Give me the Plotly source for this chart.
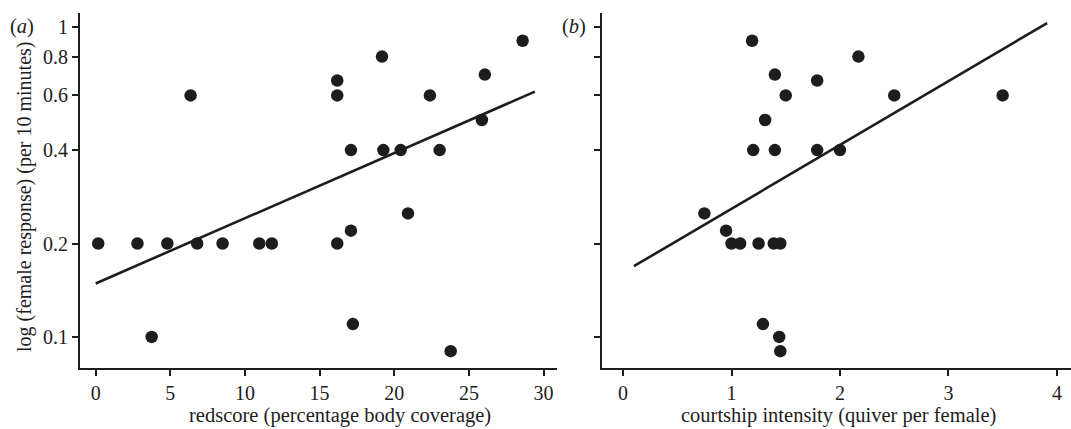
import plotly.graph_objects as go

# Panel (a): redscore vs female response
red_x = [0.17, 2.8, 4.8, 6.8, 8.5, 10.96, 11.8, 16.18, 3.75, 6.36,
         19.18, 16.18, 16.18, 22.39, 26.07, 28.6, 25.87,
         17.1, 19.27, 20.43, 23.04, 20.92, 17.1, 17.23, 23.78]
red_y = [0.2, 0.2, 0.2, 0.2, 0.2, 0.2, 0.2, 0.2, 0.1, 0.6,
         0.8, 0.67, 0.6, 0.6, 0.7, 0.9, 0.5,
         0.4, 0.4, 0.4, 0.4, 0.25, 0.22, 0.11, 0.09]
red_fit_x = [0.0, 29.42]
red_fit_y = [0.1487, 0.617]

# Panel (b): courtship intensity vs female response
qv_x = [1.19, 1.40, 1.50, 1.31, 1.20, 1.40, 1.79, 1.79, 0.75, 0.95,
        1.00, 1.08, 1.25, 1.39, 1.45, 1.29, 1.44, 1.45,
        2.17, 2.50, 3.50, 2.00]
qv_y = [0.9, 0.7, 0.6, 0.5, 0.4, 0.4, 0.67, 0.4, 0.25, 0.22,
        0.2, 0.2, 0.2, 0.2, 0.2, 0.11, 0.1, 0.09,
        0.8, 0.6, 0.6, 0.4]
qv_fit_x = [0.10, 3.91]
qv_fit_y = [0.169, 1.026]

y_ticks = [0.1, 0.2, 0.4, 0.6, 0.8, 1]
y_ticktext = ["0.1", "0.2", "0.4", "0.6", "0.8", "1"]
xa_ticks = [0, 5, 10, 15, 20, 25, 30]
xb_ticks = [0, 1, 2, 3, 4]

INK = "#1e1c1d"
FONT = "Liberation Serif"
FS = 20

fig = go.Figure()
mk = dict(color=INK, size=12.5)
fig.add_trace(go.Scatter(x=red_x, y=red_y, mode="markers", marker=mk,
                         xaxis="x", yaxis="y", showlegend=False))
fig.add_trace(go.Scatter(x=red_fit_x, y=red_fit_y, mode="lines",
                         line=dict(color=INK, width=2.6),
                         xaxis="x", yaxis="y", showlegend=False))
fig.add_trace(go.Scatter(x=qv_x, y=qv_y, mode="markers", marker=mk,
                         xaxis="x2", yaxis="y2", showlegend=False))
fig.add_trace(go.Scatter(x=qv_fit_x, y=qv_fit_y, mode="lines",
                         line=dict(color=INK, width=2.6),
                         xaxis="x2", yaxis="y2", showlegend=False))

axis_common = dict(showline=True, linecolor=INK, linewidth=2, ticks="outside",
                   ticklen=6, tickwidth=2, tickcolor=INK, showgrid=False,
                   zeroline=False, tickfont=dict(family=FONT, size=FS, color=INK))
tfont = dict(family=FONT, size=20.5, color=INK)
yfont = dict(family=FONT, size=20, color=INK)

yr = [-1.1, 0.0435]
fig.update_layout(
    width=1071, height=429,
    margin=dict(l=80, r=0, t=13, b=61),
    paper_bgcolor="white", plot_bgcolor="white",
    font=dict(family=FONT, size=FS, color=INK),
    xaxis=dict(domain=[0, 0.4813], range=[-1.05, 30.9], tickvals=xa_ticks,
               anchor="y", **axis_common),
    yaxis=dict(type="log", range=yr, tickvals=y_ticks, ticktext=y_ticktext,
               anchor="x", **axis_common),
    xaxis2=dict(domain=[0.5264, 1], range=[-0.197, 4.13], tickvals=xb_ticks,
                anchor="y2", **axis_common),
    yaxis2=dict(type="log", range=yr, tickvals=y_ticks, ticktext=y_ticktext,
                showticklabels=False, anchor="x2", **axis_common),
    annotations=[
        dict(text="(<i>a</i>)", x=-0.0727, y=0.9606, xref="paper", yref="paper",
             xanchor="left", yanchor="middle", showarrow=False, font=tfont),
        dict(text="(<i>b</i>)", x=0.4844, y=0.9606, xref="paper", yref="paper",
             xanchor="left", yanchor="middle", showarrow=False, font=tfont),
        dict(text="log (female response) (per 10 minutes)", x=-0.0555, y=0.4817,
             xref="paper", yref="paper", xanchor="center", yanchor="middle",
             textangle=-90, showarrow=False, font=yfont),
        dict(text="redscore (percentage body coverage)", x=0.2624, y=-0.1352,
             xref="paper", yref="paper", xanchor="center", yanchor="middle",
             showarrow=False, font=tfont),
        dict(text="courtship intensity (quiver per female)", x=0.7649, y=-0.1352,
             xref="paper", yref="paper", xanchor="center", yanchor="middle",
             showarrow=False, font=tfont),
    ],
)

fig.write_html("out.html", config={"displayModeBar": False},
               post_script="document.body.style.margin='0';document.body.style.overflow='hidden';")
